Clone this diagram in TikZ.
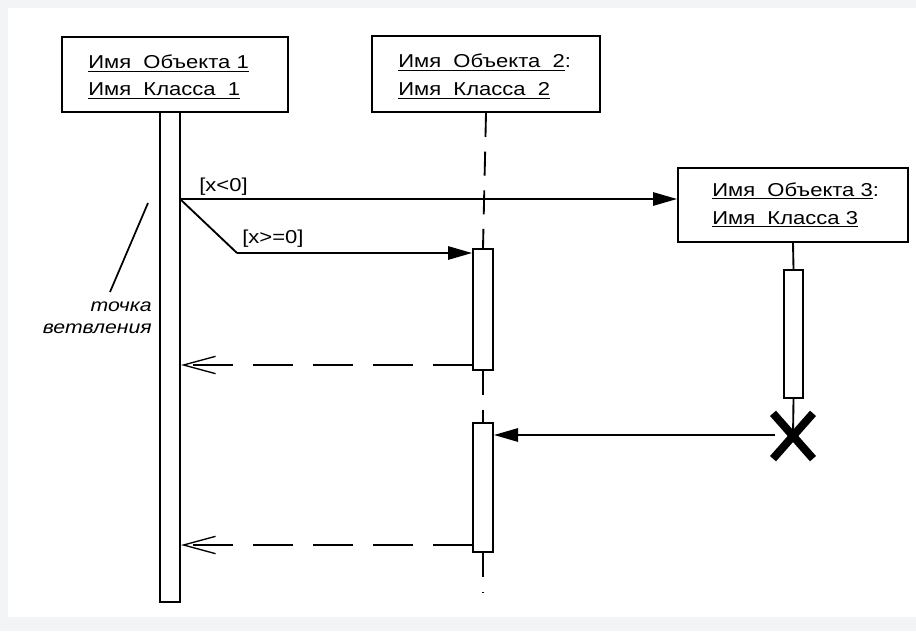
\documentclass[tikz,border=0pt]{standalone}
\usepackage{fontspec}
\setmainfont[FakeStretch=1.18]{Liberation Sans}
\usetikzlibrary{arrows.meta,shapes.misc}
\definecolor{bgrey}{HTML}{F3F4F6}
\tikzset{
  box/.style={draw, line width=1.5pt, inner sep=0pt},
  lbl/.style={inner sep=0pt, font=\fontsize{14}{16}\selectfont},
  msg/.style={line width=1.4pt, -{Triangle[length=18pt,width=10pt]}},
  ret/.style={line width=1.4pt, dash pattern=on 30pt off 15pt, -{Straight Barb[length=24pt,width=13pt,line width=1pt]}},
  life/.style={line width=1.4pt, dash pattern=on 18pt off 11pt},
  solidlife/.style={line width=1.4pt},
}
\begin{document}
\begin{tikzpicture}[x=0.75pt,y=-0.75pt]
\useasboundingbox (0,0) rectangle (916,631);
\fill[bgrey] (0,0) rectangle (916,631);
\fill[white] (8,8) rectangle (916,617);

% object boxes
\node[box, minimum width=169.5pt, minimum height=56.25pt] (obj1) at (175,74.5) {};
\node[box, minimum width=171pt, minimum height=57pt] (obj2) at (486,74) {};
\node[box, minimum width=172.5pt, minimum height=55.5pt] (obj3) at (793,205) {};

\node[lbl, anchor=base west] (t1a) at (88,69) {\underline{Имя\ \ Объекта 1}};
\node[lbl, anchor=base west] (t1b) at (88,96) {\underline{Имя\ \ Класса\ \ 1}};
\node[lbl, anchor=base west] (t2a) at (398,68) {\underline{Имя\ \ Объекта\ \ 2}:};
\node[lbl, anchor=base west] (t2b) at (398,96) {\underline{Имя\ \ Класса\ \ 2}};
\node[lbl, anchor=base west] (t3a) at (712,196) {\underline{Имя\ \ Объекта 3}:};
\node[lbl, anchor=base west] (t3b) at (712,224) {\underline{Имя\ \ Класса 3}};

% activation bars
\node[box, minimum width=15pt, minimum height=367.5pt] (bar1) at (170,357) {};
\node[box, minimum width=15pt, minimum height=90.75pt] (act2a) at (483,309.5) {};
\node[box, minimum width=15pt, minimum height=96.75pt] (act2b) at (483,487.5) {};
\node[box, minimum width=14.25pt, minimum height=96pt] (act3) at (793.5,334) {};
\node[draw, cross out, line width=6pt, inner sep=0pt, minimum width=24pt, minimum height=28pt] (X) at (793,436) {};

% lifelines
\coordinate (end2) at (483,593);
\draw[life] (obj2.south) -- (act2a.north);
\draw[life] (act2a.south) -- (act2b.north);
\draw[life] (act2b.south) -- (end2);
\draw[solidlife] (obj3.south) -- (act3.north);
\draw[solidlife] (act3.south) -- (X.center);

% messages
\coordinate (b) at (180,199);
\coordinate (k) at (237,253);
\draw[msg] (b) -- (obj3.west |- b);
\draw[line width=1.4pt] (b) -- (k);
\draw[msg] (k) -- (act2a.west |- k);
\node[lbl, anchor=base west] (g1) at (199,191) {[x<0]};
\node[lbl, anchor=base west] (g2) at (242,243) {[x>=0]};

\coordinate (r1) at (473,365);
\draw[ret] (r1) -- (bar1.east |- r1);
\coordinate (xm) at (775,435);
\draw[msg] (xm) -- (act2b.east |- xm);
\coordinate (r2) at (473,545);
\draw[ret] (r2) -- (bar1.east |- r2);

% branch point note
\coordinate (n1) at (110,292);
\coordinate (n2) at (148,203);
\draw[line width=1.3pt] (n1) -- (n2);
\node[lbl, anchor=north east, align=right, font=\fontsize{13.5}{16}\selectfont\itshape] (note) at (152,302) {точка\\ветвления};
\end{tikzpicture}
\end{document}
